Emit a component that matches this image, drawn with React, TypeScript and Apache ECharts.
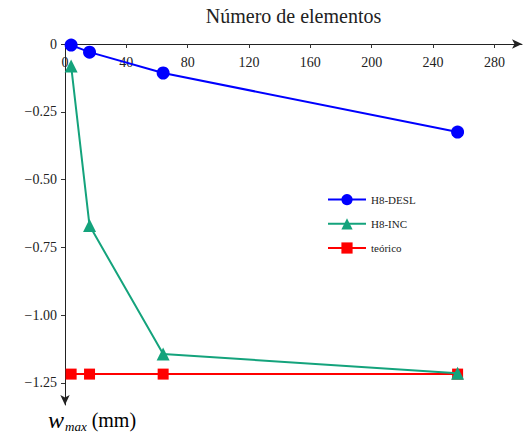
import React, { useEffect, useRef } from "react";
import * as echarts from "echarts";

const elementos = [4, 16, 64, 256];
const desl = [-0.004, -0.03, -0.107, -0.325];
const inc = [-0.081, -0.67, -1.144, -1.215];
const teorico = [-1.218, -1.218, -1.218, -1.218];
const xTicks = [0, 40, 80, 120, 160, 200, 240, 280];
const yTicks = [0, -0.25, -0.5, -0.75, -1, -1.25];

const FONT = "Liberation Serif";

function fmtY(v: number): string {
  if (v === 0) return "0";
  return "\u2212" + Math.abs(v).toFixed(2);
}

export default function App() {
  const ref = useRef<HTMLDivElement>(null);
  useEffect(() => {
    if (!ref.current) return;
    const chart = echarts.init(ref.current, null, { renderer: "svg" });
    const pair = (ys: number[]) => elementos.map((x, i) => [x, ys[i]]);
    chart.setOption({
      animation: false,
      textStyle: { fontFamily: FONT },
      grid: {
        left: 65,
        top: 44,
        width: 457,
        height: 361,
        containLabel: false,
        outerBoundsMode: "none",
      },
      xAxis: {
        type: "value",
        position: "top",
        min: 0,
        max: 298,
        name: "Número de elementos",
        nameLocation: "middle",
        nameGap: 18,
        nameTextStyle: { fontFamily: FONT, fontSize: 20, color: "#222" },
        axisLine: {
          show: true,
          onZero: false,
          lineStyle: { color: "#222", width: 1 },
          symbol: ["none", "arrow"],
          symbolSize: [7, 10],
        },
        axisTick: {
          show: true,
          inside: true,
          length: 4,
          customValues: xTicks,
          lineStyle: { color: "#333" },
        },
        axisLabel: {
          inside: true,
          margin: 11,
          customValues: xTicks,
          fontFamily: FONT,
          fontSize: 14,
          color: "#222",
        },
        splitLine: { show: false },
      },
      yAxis: {
        type: "value",
        min: -1.332,
        max: 0,
        axisLine: {
          show: true,
          onZero: false,
          lineStyle: { color: "#222", width: 1 },
          symbol: ["arrow", "none"],
          symbolSize: [7, 10],
        },
        axisTick: {
          show: true,
          length: 4,
          customValues: yTicks,
          lineStyle: { color: "#333" },
        },
        axisLabel: {
          customValues: yTicks,
          formatter: (v: number) => fmtY(v),
          margin: 8,
          fontFamily: FONT,
          fontSize: 14,
          color: "#222",
        },
        splitLine: { show: false },
      },
      legend: {
        orient: "vertical",
        left: 322,
        top: 189,
        itemWidth: 38,
        itemHeight: 14,
        itemGap: 13,
        textStyle: { fontFamily: FONT, fontSize: 11, color: "#222" },
        data: ["H8-DESL", "H8-INC", "teórico"],
      },
      graphic: [
        {
          type: "text",
          left: 48,
          top: 408,
          style: {
            text: "{w|w}{s|max}{n| (mm)}",
            rich: {
              w: { fontFamily: FONT, fontStyle: "italic", fontSize: 24, color: "#222" },
              s: { fontFamily: FONT, fontStyle: "italic", fontSize: 13, color: "#222", padding: [12, 0, 0, 1] },
              n: { fontFamily: FONT, fontSize: 20, color: "#222" },
            },
          },
        },
      ],
      series: [
        {
          name: "H8-DESL",
          type: "line",
          data: pair(desl),
          symbol: "circle",
          symbolSize: 13,
          itemStyle: { color: "#0000ff" },
          lineStyle: { color: "#0000ff", width: 2 },
          z: 3,
        },
        {
          name: "H8-INC",
          type: "line",
          data: pair(inc),
          symbol: "triangle",
          symbolSize: 13,
          itemStyle: { color: "#14a37c" },
          lineStyle: { color: "#14a37c", width: 2 },
          z: 4,
        },
        {
          name: "teórico",
          type: "line",
          data: pair(teorico),
          symbol: "rect",
          symbolSize: 11,
          itemStyle: { color: "#ff0000" },
          lineStyle: { color: "#ff0000", width: 2 },
          z: 2,
        },
      ],
    });
    return () => chart.dispose();
  }, []);
  return (
    <div
      ref={ref}
      style={{ position: "absolute", left: 0, top: 0, width: 526, height: 435 }}
    />
  );
}
